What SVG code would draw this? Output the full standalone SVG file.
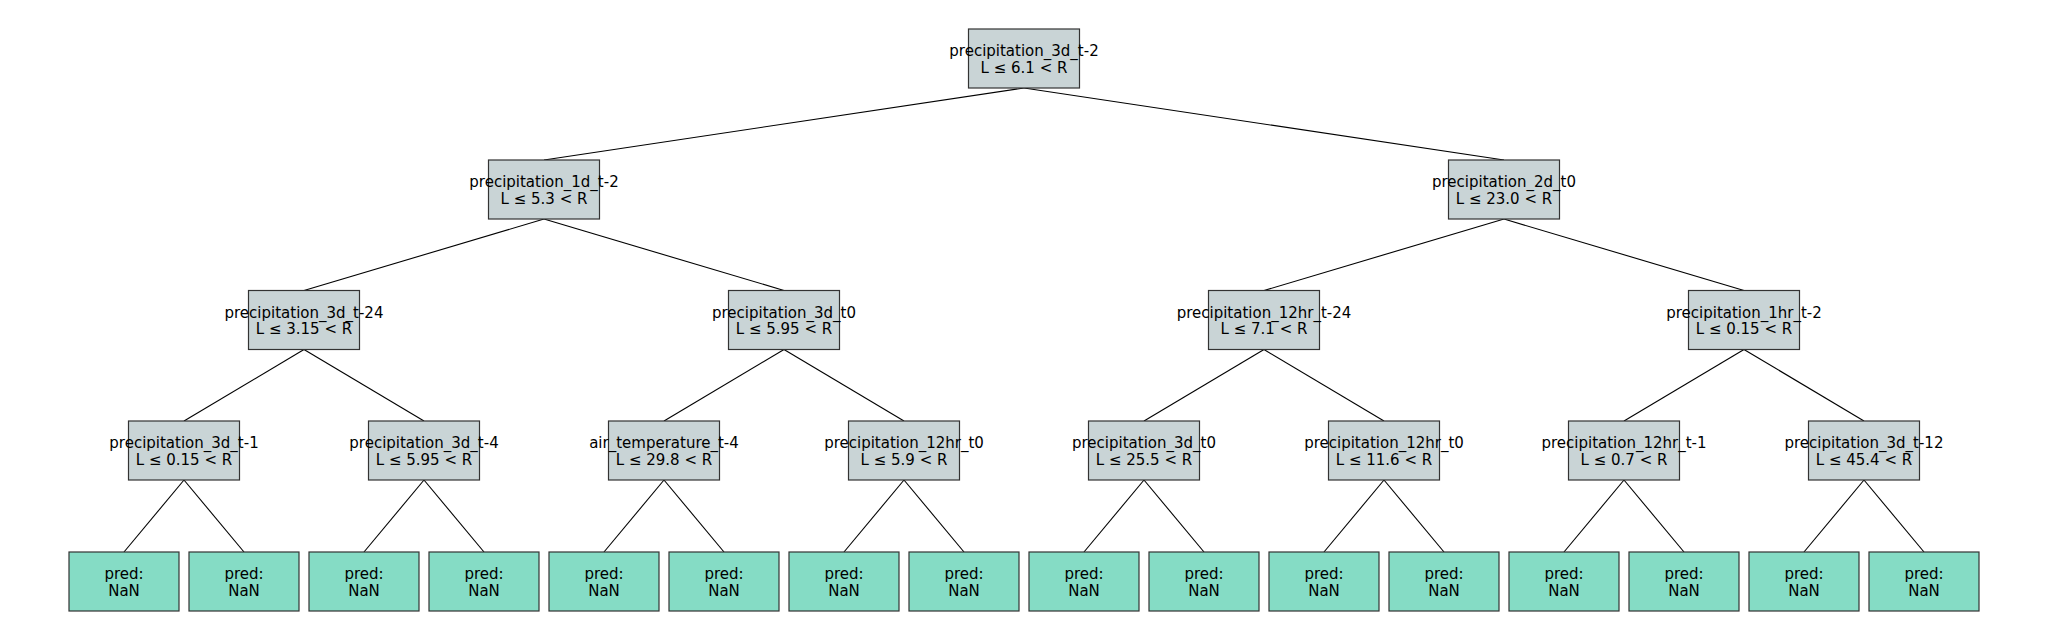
<svg xmlns="http://www.w3.org/2000/svg" width="2048" height="640" viewBox="0 0 2048 640">
<style>
.split{fill:#c9d4d6;stroke:#333333;stroke-width:1.2}
.leaf{fill:#85dcc5;stroke:#333333;stroke-width:1.2}
.t{font-family:"DejaVu Sans",sans-serif;font-size:15px;fill:#000000;text-anchor:middle}
.edges line{stroke:#000000;stroke-width:1.1}
</style>
<rect x="0" y="0" width="2048" height="640" fill="#ffffff"/>
<g class="edges" id="connectors">
<line x1="1024" y1="88" x2="544" y2="160"/>
<line x1="1024" y1="88" x2="1504" y2="160"/>
<line x1="544" y1="219" x2="304" y2="290.5"/>
<line x1="544" y1="219" x2="784" y2="290.5"/>
<line x1="1504" y1="219" x2="1264" y2="290.5"/>
<line x1="1504" y1="219" x2="1744" y2="290.5"/>
<line x1="304" y1="349.5" x2="184" y2="421"/>
<line x1="304" y1="349.5" x2="424" y2="421"/>
<line x1="784" y1="349.5" x2="664" y2="421"/>
<line x1="784" y1="349.5" x2="904" y2="421"/>
<line x1="1264" y1="349.5" x2="1144" y2="421"/>
<line x1="1264" y1="349.5" x2="1384" y2="421"/>
<line x1="1744" y1="349.5" x2="1624" y2="421"/>
<line x1="1744" y1="349.5" x2="1864" y2="421"/>
<line x1="184" y1="480" x2="124" y2="552"/>
<line x1="184" y1="480" x2="244" y2="552"/>
<line x1="424" y1="480" x2="364" y2="552"/>
<line x1="424" y1="480" x2="484" y2="552"/>
<line x1="664" y1="480" x2="604" y2="552"/>
<line x1="664" y1="480" x2="724" y2="552"/>
<line x1="904" y1="480" x2="844" y2="552"/>
<line x1="904" y1="480" x2="964" y2="552"/>
<line x1="1144" y1="480" x2="1084" y2="552"/>
<line x1="1144" y1="480" x2="1204" y2="552"/>
<line x1="1384" y1="480" x2="1324" y2="552"/>
<line x1="1384" y1="480" x2="1444" y2="552"/>
<line x1="1624" y1="480" x2="1564" y2="552"/>
<line x1="1624" y1="480" x2="1684" y2="552"/>
<line x1="1864" y1="480" x2="1804" y2="552"/>
<line x1="1864" y1="480" x2="1924" y2="552"/>
</g>
<g id="n0"><rect class="split" x="968.5" y="29" width="111" height="59"/><text class="t" x="1024" y="56">precipitation_3d_t-2</text><text class="t" x="1024" y="72.5">L ≤ 6.1 &lt; R</text></g>
<g id="n1"><rect class="split" x="488.5" y="160" width="111" height="59"/><text class="t" x="544" y="187">precipitation_1d_t-2</text><text class="t" x="544" y="203.5">L ≤ 5.3 &lt; R</text></g>
<g id="n2"><rect class="split" x="1448.5" y="160" width="111" height="59"/><text class="t" x="1504" y="187">precipitation_2d_t0</text><text class="t" x="1504" y="203.5">L ≤ 23.0 &lt; R</text></g>
<g id="n3"><rect class="split" x="248.5" y="290.5" width="111" height="59"/><text class="t" x="304" y="317.5">precipitation_3d_t-24</text><text class="t" x="304" y="334">L ≤ 3.15 &lt; R</text></g>
<g id="n4"><rect class="split" x="728.5" y="290.5" width="111" height="59"/><text class="t" x="784" y="317.5">precipitation_3d_t0</text><text class="t" x="784" y="334">L ≤ 5.95 &lt; R</text></g>
<g id="n5"><rect class="split" x="1208.5" y="290.5" width="111" height="59"/><text class="t" x="1264" y="317.5">precipitation_12hr_t-24</text><text class="t" x="1264" y="334">L ≤ 7.1 &lt; R</text></g>
<g id="n6"><rect class="split" x="1688.5" y="290.5" width="111" height="59"/><text class="t" x="1744" y="317.5">precipitation_1hr_t-2</text><text class="t" x="1744" y="334">L ≤ 0.15 &lt; R</text></g>
<g id="n7"><rect class="split" x="128.5" y="421" width="111" height="59"/><text class="t" x="184" y="448">precipitation_3d_t-1</text><text class="t" x="184" y="464.5">L ≤ 0.15 &lt; R</text></g>
<g id="n8"><rect class="split" x="368.5" y="421" width="111" height="59"/><text class="t" x="424" y="448">precipitation_3d_t-4</text><text class="t" x="424" y="464.5">L ≤ 5.95 &lt; R</text></g>
<g id="n9"><rect class="split" x="608.5" y="421" width="111" height="59"/><text class="t" x="664" y="448">air_temperature_t-4</text><text class="t" x="664" y="464.5">L ≤ 29.8 &lt; R</text></g>
<g id="n10"><rect class="split" x="848.5" y="421" width="111" height="59"/><text class="t" x="904" y="448">precipitation_12hr_t0</text><text class="t" x="904" y="464.5">L ≤ 5.9 &lt; R</text></g>
<g id="n11"><rect class="split" x="1088.5" y="421" width="111" height="59"/><text class="t" x="1144" y="448">precipitation_3d_t0</text><text class="t" x="1144" y="464.5">L ≤ 25.5 &lt; R</text></g>
<g id="n12"><rect class="split" x="1328.5" y="421" width="111" height="59"/><text class="t" x="1384" y="448">precipitation_12hr_t0</text><text class="t" x="1384" y="464.5">L ≤ 11.6 &lt; R</text></g>
<g id="n13"><rect class="split" x="1568.5" y="421" width="111" height="59"/><text class="t" x="1624" y="448">precipitation_12hr_t-1</text><text class="t" x="1624" y="464.5">L ≤ 0.7 &lt; R</text></g>
<g id="n14"><rect class="split" x="1808.5" y="421" width="111" height="59"/><text class="t" x="1864" y="448">precipitation_3d_t-12</text><text class="t" x="1864" y="464.5">L ≤ 45.4 &lt; R</text></g>
<g id="l0"><rect class="leaf" x="69" y="552" width="110" height="59"/><text class="t" x="124" y="579">pred:</text><text class="t" x="124" y="595.5">NaN</text></g>
<g id="l1"><rect class="leaf" x="189" y="552" width="110" height="59"/><text class="t" x="244" y="579">pred:</text><text class="t" x="244" y="595.5">NaN</text></g>
<g id="l2"><rect class="leaf" x="309" y="552" width="110" height="59"/><text class="t" x="364" y="579">pred:</text><text class="t" x="364" y="595.5">NaN</text></g>
<g id="l3"><rect class="leaf" x="429" y="552" width="110" height="59"/><text class="t" x="484" y="579">pred:</text><text class="t" x="484" y="595.5">NaN</text></g>
<g id="l4"><rect class="leaf" x="549" y="552" width="110" height="59"/><text class="t" x="604" y="579">pred:</text><text class="t" x="604" y="595.5">NaN</text></g>
<g id="l5"><rect class="leaf" x="669" y="552" width="110" height="59"/><text class="t" x="724" y="579">pred:</text><text class="t" x="724" y="595.5">NaN</text></g>
<g id="l6"><rect class="leaf" x="789" y="552" width="110" height="59"/><text class="t" x="844" y="579">pred:</text><text class="t" x="844" y="595.5">NaN</text></g>
<g id="l7"><rect class="leaf" x="909" y="552" width="110" height="59"/><text class="t" x="964" y="579">pred:</text><text class="t" x="964" y="595.5">NaN</text></g>
<g id="l8"><rect class="leaf" x="1029" y="552" width="110" height="59"/><text class="t" x="1084" y="579">pred:</text><text class="t" x="1084" y="595.5">NaN</text></g>
<g id="l9"><rect class="leaf" x="1149" y="552" width="110" height="59"/><text class="t" x="1204" y="579">pred:</text><text class="t" x="1204" y="595.5">NaN</text></g>
<g id="l10"><rect class="leaf" x="1269" y="552" width="110" height="59"/><text class="t" x="1324" y="579">pred:</text><text class="t" x="1324" y="595.5">NaN</text></g>
<g id="l11"><rect class="leaf" x="1389" y="552" width="110" height="59"/><text class="t" x="1444" y="579">pred:</text><text class="t" x="1444" y="595.5">NaN</text></g>
<g id="l12"><rect class="leaf" x="1509" y="552" width="110" height="59"/><text class="t" x="1564" y="579">pred:</text><text class="t" x="1564" y="595.5">NaN</text></g>
<g id="l13"><rect class="leaf" x="1629" y="552" width="110" height="59"/><text class="t" x="1684" y="579">pred:</text><text class="t" x="1684" y="595.5">NaN</text></g>
<g id="l14"><rect class="leaf" x="1749" y="552" width="110" height="59"/><text class="t" x="1804" y="579">pred:</text><text class="t" x="1804" y="595.5">NaN</text></g>
<g id="l15"><rect class="leaf" x="1869" y="552" width="110" height="59"/><text class="t" x="1924" y="579">pred:</text><text class="t" x="1924" y="595.5">NaN</text></g>
</svg>
